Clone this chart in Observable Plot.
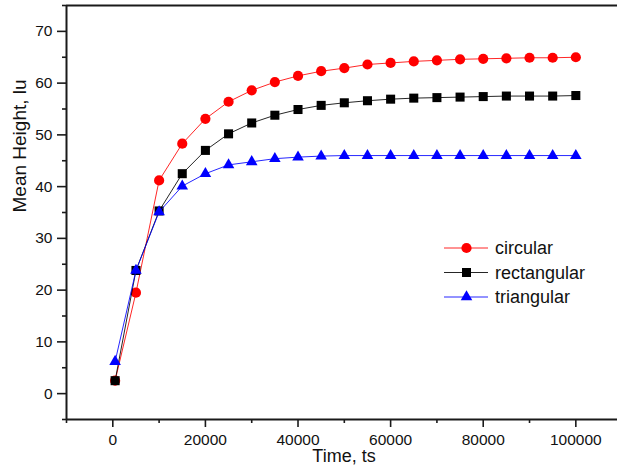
<!DOCTYPE html>
<html><head><meta charset="utf-8">
<script src="https://cdn.jsdelivr.net/npm/d3@7"></script>
<script src="https://cdn.jsdelivr.net/npm/@observablehq/plot@0.6"></script>
<style>body{margin:0;background:#fff;} svg{display:block;}</style>
</head><body><div id="chart"></div>
<script>
// ---- data ----
const time = [500, 5000, 10000, 15000, 20000, 25000, 30000, 35000, 40000, 45000, 50000,
              55000, 60000, 65000, 70000, 75000, 80000, 85000, 90000, 95000, 100000];
const circular    = [2.5, 19.5, 41.2, 48.3, 53.1, 56.4, 58.6, 60.2, 61.4, 62.3, 62.9,
                     63.6, 63.9, 64.2, 64.4, 64.6, 64.7, 64.8, 64.9, 64.9, 65.0];
const rectangular = [2.5, 23.8, 35.3, 42.5, 47.0, 50.2, 52.3, 53.8, 54.9, 55.7, 56.2,
                     56.6, 56.9, 57.1, 57.2, 57.3, 57.4, 57.5, 57.5, 57.5, 57.6];
const triangular  = [6.2, 23.8, 35.1, 40.1, 42.5, 44.2, 44.8, 45.4, 45.7, 45.9, 46.0,
                     46.0, 46.0, 46.0, 46.0, 46.0, 46.0, 46.0, 46.0, 46.0, 46.0];
const seriesNames = ["circular", "rectangular", "triangular"];
const xMajor = [0, 20000, 40000, 60000, 80000, 100000];
const xMinor = [-10000, 10000, 30000, 50000, 70000, 90000];
const yMajor = [0, 10, 20, 30, 40, 50, 60, 70];
const yMinor = [-5, 5, 15, 25, 35, 45, 55, 65, 75];
const xDomain = [-10000, 109000];
const yDomain = [-5, 75];

// ---- styling ----
const series = [
  {name: seriesNames[0], values: circular,    color: "#ff0000", symbol: "circle",   r: 5.1},
  {name: seriesNames[1], values: rectangular, color: "#000000", symbol: "square",   r: 5.1},
  {name: seriesNames[2], values: triangular,  color: "#0000ff", symbol: "triangle", r: 4.3}
];
const font = "'Liberation Sans', Arial, sans-serif";

const seriesMarks = series.flatMap(s => {
  const rows = time.map((t, i) => ({time: t, value: s.values[i]}));
  return [
    Plot.line(rows, {x: "time", y: "value", stroke: s.color, strokeWidth: 1, strokeOpacity: 0.85}),
    Plot.dot(rows, {x: "time", y: "value", fill: s.color, stroke: "none", symbol: s.symbol, r: s.r})
  ];
});

const axisStyle = {stroke: "#1a1a1a", strokeWidth: 1.6};

const chart = Plot.plot({
  width: 617, height: 472,
  marginLeft: 66, marginRight: 0, marginTop: 5, marginBottom: 53,
  style: {fontFamily: font, background: "#fff", color: "#111", overflow: "visible"},
  x: {domain: xDomain},
  y: {domain: yDomain},
  marks: [
    Plot.axisX(xMinor, {tickSize: 4, tickFormat: () => "", label: null, ...axisStyle}),
    Plot.axisX(xMajor, {tickSize: 8, tickPadding: 6, fontSize: 15.5, label: null, tickFormat: d => String(d), ...axisStyle}),
    Plot.axisY(yMinor, {tickSize: 4, tickFormat: () => "", label: null, ...axisStyle}),
    Plot.axisY(yMajor, {tickSize: 9, tickPadding: 5, fontSize: 15.5, label: null, tickFormat: d => String(d), ...axisStyle}),
    Plot.ruleX([xDomain[0]], {stroke: "#1a1a1a", strokeWidth: 2}),
    Plot.ruleY([yDomain[0], yDomain[1]], {stroke: "#1a1a1a", strokeWidth: 2}),
    ...seriesMarks,
    Plot.text(["Mean Height, lu"], {text: d => d, frameAnchor: "left", dx: -47, rotate: -90, fontSize: 19, fill: "#111"}),
    Plot.text(["Time, ts"], {text: d => d, frameAnchor: "bottom", dx: 2, dy: 42, lineAnchor: "bottom", fontSize: 18, fill: "#111"})
  ]
});

// ---- legend (inside plot) ----
const svg = d3.select(chart);
const lg = svg.append("g").attr("font-family", font).attr("font-size", 18).attr("text-anchor", "start");
const rowY = [248, 272.5, 297];
series.forEach((s, i) => {
  const g = lg.append("g").attr("transform", `translate(0,${rowY[i]})`);
  g.append("line").attr("x1", 444).attr("x2", 488).attr("y1", 0).attr("y2", 0)
    .attr("stroke", s.color).attr("stroke-width", 1).attr("stroke-opacity", 0.85);
  const sym = {circle: d3.symbolCircle, square: d3.symbolSquare, triangle: d3.symbolTriangle}[s.symbol];
  g.append("path").attr("d", d3.symbol(sym, Math.PI * s.r * s.r)())
    .attr("transform", "translate(466.5,0)").attr("fill", s.color);
  g.append("text").attr("x", 495).attr("y", 0).attr("dy", "0.35em")
    .attr("text-anchor", "start").attr("fill", "#111").text(s.name);
});

document.getElementById("chart").appendChild(chart);
</script>
</body></html>
